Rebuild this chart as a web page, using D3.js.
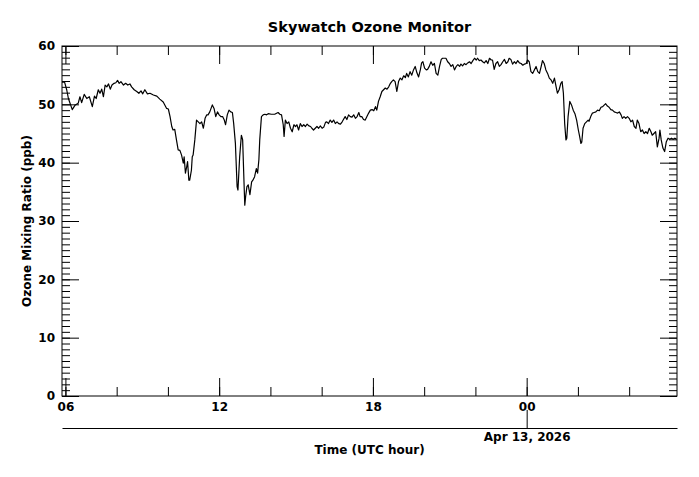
<!DOCTYPE html>
<html>
<head>
<meta charset="utf-8">
<script src="https://cdn.jsdelivr.net/npm/d3@7"></script>
<style>
  * { margin: 0; padding: 0; }
  body { background: #fff; }
  svg { display: block; font-family: "DejaVu Sans", sans-serif; font-weight: bold; }
  .axis path, .axis line { stroke: #000; }
  .axis text { font-family: "DejaVu Sans", sans-serif; font-size: 12px; font-weight: bold; fill: #000; }
</style>
</head>
<body>
<svg id="chart" width="699" height="477"></svg>
<script>
// readings, UTC clock time; the series crosses midnight into the next day
const startDay = "2026-04-12";
const times = [
  "05:52","05:58","06:03","06:07","06:16","06:23","06:30","06:34","06:38","06:44","06:50","06:56",
  "07:03","07:08","07:12","07:17","07:21","07:25","07:29","07:33","07:37","07:41","07:45","07:49","07:54","07:58",
  "08:02","08:06","08:10","08:16","08:21","08:26","08:31","08:35","08:41","08:47","08:52","08:57",
  "09:01","09:06","09:12","09:18","09:26","09:34","09:41","09:49","09:57",
  "10:01","10:05","10:09","10:12","10:16","10:20","10:24","10:28","10:32","10:36","10:38","10:41","10:44","10:46","10:49","10:51","10:55","10:57","10:59",
  "11:03","11:07","11:11","11:15","11:19","11:23","11:27","11:31","11:34","11:38","11:44","11:48","11:52","11:56",
  "12:00","12:04","12:08","12:12","12:15","12:19","12:23","12:27","12:31","12:34","12:38","12:42","12:44","12:48","12:52","12:55","12:58",
  "13:00","13:02","13:05","13:08","13:12","13:16","13:19","13:23","13:27","13:30","13:33","13:35","13:39","13:43","13:47","13:51","13:55",
  "14:02","14:10","14:18","14:22","14:26","14:30","14:32","14:35","14:39","14:43","14:47","14:51","14:55","14:59",
  "15:02","15:06","15:10","15:14","15:18","15:22","15:26","15:30","15:34","15:37","15:41","15:45","15:49","15:53","15:57",
  "16:01","16:05","16:09","16:12","16:16","16:20","16:24","16:28","16:32","16:36","16:40","16:44","16:48","16:51","16:55","16:59",
  "17:03","17:07","17:11","17:15","17:19","17:23","17:27","17:30","17:34","17:38","17:42","17:46","17:50","17:54","17:58",
  "18:02","18:06","18:09","18:13","18:17","18:21","18:25","18:29","18:33","18:37","18:41","18:44","18:48","18:52","18:56",
  "19:00","19:04","19:08","19:12","19:16","19:19","19:23","19:27","19:31","19:35","19:39","19:43","19:47","19:51","19:54","19:57",
  "20:01","20:05","20:08","20:12","20:16","20:20","20:24","20:28","20:32","20:36","20:40","20:43","20:47","20:51","20:55","20:59",
  "21:03","21:07","21:11","21:15","21:19","21:23","21:26","21:30","21:34","21:38","21:42","21:46","21:50","21:54","21:58",
  "22:02","22:05","22:09","22:13","22:17","22:21","22:25","22:29","22:33","22:37","22:40","22:44","22:48","22:52","22:56",
  "23:00","23:04","23:08","23:12","23:16","23:19","23:23","23:27","23:31","23:35","23:39","23:43","23:47","23:51","23:55","23:59",
  "00:02","00:06","00:10","00:14","00:18","00:22","00:26","00:30","00:34","00:37","00:41","00:45","00:49","00:53","00:57",
  "01:01","01:05","01:09","01:12","01:16","01:20","01:23","01:26","01:29","01:32","01:34","01:37","01:41","01:45","01:49","01:53","01:57",
  "02:01","02:04","02:07","02:09","02:12","02:16","02:20","02:24","02:26","02:30","02:34","02:38","02:42","02:46","02:50","02:54","02:58",
  "03:02","03:05","03:09","03:13","03:17","03:21","03:25","03:29","03:33","03:37","03:41","03:44","03:48","03:52","03:56",
  "04:00","04:04","04:08","04:12","04:16","04:19","04:23","04:27","04:31","04:35","04:39","04:43","04:47","04:51","04:54","04:58",
  "05:02","05:06","05:10","05:12","05:15","05:19","05:23","05:27","05:31","05:35","05:39","05:43","05:47","05:51"
];
const ozone = [
  53.8,53.8,52.5,51.0,49.1,49.9,50.2,51.3,50.3,51.7,51.0,51.3,
  49.6,51.4,51.0,52.5,51.9,52.6,51.3,53.3,53.0,53.5,52.6,53.3,53.6,53.7,
  54.1,53.6,53.9,53.3,53.6,53.3,53.5,53.0,52.5,52.2,51.9,52.3,
  51.8,52.5,51.8,51.9,51.6,51.4,50.9,50.4,49.3,
  49.2,47.9,46.2,45.6,45.7,43.9,42.2,42.1,41.3,39.9,41.0,38.2,39.3,40.2,37.0,37.0,38.7,41.0,41.3,
  43.9,47.3,47.0,46.7,47.0,45.9,47.6,48.2,48.2,48.7,49.9,49.3,47.9,48.7,
  48.2,47.9,47.9,47.3,46.5,48.2,49.0,48.7,48.6,46.7,43.3,35.9,35.3,41.0,44.7,43.9,37.0,
  32.7,34.2,35.9,36.2,34.5,36.7,37.0,37.6,39.0,38.2,40.5,43.9,47.9,48.2,48.3,48.2,48.4,
  48.3,48.3,48.6,48.3,48.2,46.5,44.5,47.3,46.7,47.0,45.9,45.3,46.5,46.2,
  46.5,45.6,46.7,46.2,46.5,46.2,46.6,46.3,46.2,45.9,45.6,45.9,46.2,45.9,46.3,
  45.9,46.1,46.9,47.0,46.7,47.3,46.9,47.3,46.7,47.0,46.7,46.6,47.0,47.4,47.9,47.4,
  48.2,47.9,47.8,48.2,47.6,47.9,48.6,47.9,47.9,47.4,47.3,47.9,48.5,49.0,49.1,
  48.9,49.6,49.0,50.5,51.3,52.2,52.5,52.8,52.6,53.0,53.6,53.9,54.2,53.9,52.2,
  53.9,54.5,54.2,54.9,54.6,55.3,54.7,55.6,55.0,55.9,56.5,55.4,54.7,55.9,57.1,57.3,
  56.2,55.9,56.0,56.5,57.3,56.7,57.0,55.3,55.0,56.5,57.7,57.9,57.9,57.9,57.3,57.0,
  56.5,56.8,55.9,56.5,56.8,56.5,56.9,56.6,57.0,56.8,57.1,57.3,57.0,57.5,57.9,
  57.6,57.9,57.5,57.6,57.3,57.1,57.5,57.0,57.9,57.6,57.6,56.0,57.0,57.3,56.5,
  56.8,57.3,57.7,57.0,57.3,57.9,57.7,56.9,57.3,57.0,57.5,57.1,57.0,56.7,56.9,57.0,
  57.6,57.3,55.6,55.3,55.9,56.5,55.6,55.3,56.5,57.5,57.0,55.9,55.3,54.5,54.2,
  53.6,54.5,53.0,51.9,52.5,53.6,53.9,51.9,46.7,43.9,44.2,47.9,50.5,49.9,49.0,48.4,47.3,
  45.6,44.5,43.3,43.5,45.9,46.7,47.0,47.3,47.1,47.9,48.5,48.6,48.7,49.0,48.9,49.5,49.6,
  49.9,50.1,49.7,49.5,49.1,49.0,48.7,48.6,48.5,48.7,48.2,47.6,47.9,47.6,47.9,
  47.6,47.0,47.3,46.2,45.9,47.3,46.7,45.3,45.6,45.0,45.3,45.0,45.9,45.3,44.7,45.0,
  45.3,42.7,44.2,45.6,43.9,42.5,41.9,43.6,44.2,44.0,44.2,44.0,44.2,44.0
];
const yMajor = [0, 10, 20, 30, 40, 50, 60];
const windowStart = "2026-04-12 05:52";
const windowEnd = "2026-04-13 05:52";
const dayMark = "2026-04-13 00:00";

const parse = d3.utcParse("%Y-%m-%d %H:%M");
let day = new Date(startDay + "T00:00:00Z");
let prev = "00:00";
const data = times.map((t, i) => {
  if (t < prev) day = d3.utcDay.offset(day, 1);
  prev = t;
  return { date: parse(d3.utcFormat("%Y-%m-%d")(day) + " " + t), value: ozone[i] };
});

const W = 699, H = 477;
const m = { top: 46, right: 22, bottom: 81, left: 62 };
const svg = d3.select("#chart");

const x = d3.scaleUtc()
  .domain([parse(windowStart), parse(windowEnd)])
  .range([m.left, W - m.right]);
const y = d3.scaleLinear()
  .domain([0, 60])
  .range([H - m.bottom, m.top]);

const noLabel = () => "";
function addAxis(axis, tx, ty) {
  const g = svg.append("g").attr("class", "axis")
    .attr("transform", `translate(${tx},${ty})`)
    .call(axis);
  g.select(".domain").remove();
  return g;
}

// y axes, left and right, ticks point inward
addAxis(d3.axisLeft(y).tickValues(d3.range(0, 61)).tickSize(-8).tickFormat(noLabel), m.left, 0);
addAxis(d3.axisLeft(y).tickValues(yMajor).tickSize(-17).tickPadding(7), m.left, 0);
addAxis(d3.axisRight(y).tickValues(d3.range(0, 61)).tickSize(-8).tickFormat(noLabel), W - m.right, 0);
addAxis(d3.axisRight(y).tickValues(yMajor).tickSize(-17).tickFormat(noLabel), W - m.right, 0);

// x axes, bottom and top
const hours2 = d3.utcHour.every(2);
const hours6 = d3.utcHour.every(6);
addAxis(d3.axisBottom(x).ticks(hours2).tickSize(-9).tickFormat(noLabel), 0, H - m.bottom);
addAxis(d3.axisBottom(x).ticks(hours6).tickSize(-18).tickPadding(6).tickFormat(d3.utcFormat("%H")), 0, H - m.bottom);
addAxis(d3.axisTop(x).ticks(hours2).tickSize(-9).tickFormat(noLabel), 0, m.top);
addAxis(d3.axisTop(x).ticks(hours6).tickSize(-18).tickFormat(noLabel), 0, m.top);

// date axis below
svg.append("g").attr("class", "axis")
  .attr("transform", "translate(0,428)")
  .call(d3.axisBottom(x).tickValues([parse(dayMark)]).tickSize(-18).tickSizeOuter(0)
    .tickPadding(4).tickFormat(d3.utcFormat("%b %d, %Y")));

// frame
svg.append("rect")
  .attr("x", m.left).attr("y", m.top)
  .attr("width", W - m.left - m.right).attr("height", H - m.top - m.bottom)
  .attr("fill", "none").attr("stroke", "#000").attr("stroke-width", 1);

// series
svg.append("path")
  .datum(data)
  .attr("fill", "none")
  .attr("stroke", "#000")
  .attr("stroke-width", 1.2)
  .attr("stroke-linejoin", "round")
  .attr("d", d3.line().x(d => x(d.date)).y(d => y(d.value)));

// titles
svg.append("text")
  .attr("x", (m.left + W - m.right) / 2).attr("y", 32)
  .attr("text-anchor", "middle").attr("font-size", 14.5)
  .text("Skywatch Ozone Monitor");
svg.append("text")
  .attr("x", (m.left + W - m.right) / 2).attr("y", 454)
  .attr("text-anchor", "middle").attr("font-size", 12)
  .text("Time (UTC hour)");
svg.append("text")
  .attr("transform", `translate(31,${(m.top + H - m.bottom) / 2}) rotate(-90)`)
  .attr("text-anchor", "middle").attr("font-size", 12)
  .text("Ozone Mixing Ratio (ppb)");
</script>
</body>
</html>
